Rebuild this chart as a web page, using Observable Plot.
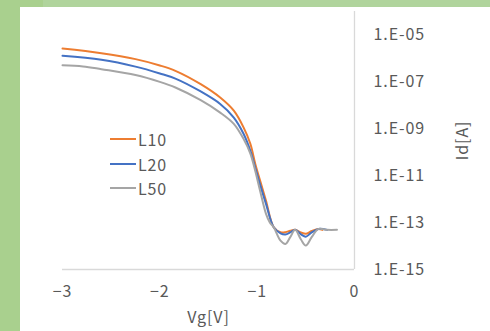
<!DOCTYPE html>
<html><head><meta charset="utf-8">
<script src="https://cdn.jsdelivr.net/npm/d3@7"></script>
<script src="https://cdn.jsdelivr.net/npm/@observablehq/plot@0.6"></script>
<style>
html,body{margin:0;padding:0;}
body{width:490px;height:331px;overflow:hidden;background:#a9d08e;position:relative;font-family:"Noto Sans CJK JP","Noto Sans",sans-serif;}
#topband{position:absolute;left:43px;top:0;width:447px;height:7px;background:#b0d49c;}
#panel{position:absolute;left:20px;top:7px;width:470px;height:324px;background:#fff;}
#chart{position:absolute;left:0;top:0;}
#chart svg text{letter-spacing:0.9px;}
#legend{position:absolute;left:90px;top:120px;font-size:16px;color:#595959;letter-spacing:0.9px;}
.row{display:flex;align-items:center;height:24.5px;}
.sw{width:26px;height:2px;margin-right:2px;}
</style></head><body>
<div id="topband"></div>
<div id="panel"><div id="chart"></div><div id="legend"></div></div>
<script>
// Series names and colours
const seriesNames = ["L10", "L20", "L50"];
const seriesColors = ["#ED7D31", "#4472C4", "#A5A5A5"];

// Gate voltage Vg [V] and log10 of drain current Id [A]
const vgL10 = [-3.00,-2.60,-2.25,-2.00,-1.84,-1.58,-1.38,-1.24,-1.14,-1.07,-1.02,-0.97,-0.91,-0.83,-0.76,-0.71,-0.66,-0.61,-0.55,-0.50,-0.44,-0.37,-0.33];
const logIdL10 = [-5.58,-5.78,-6.03,-6.30,-6.53,-7.10,-7.67,-8.23,-8.94,-9.64,-10.49,-11.21,-12.06,-13.20,-13.41,-13.41,-13.35,-13.31,-13.42,-13.48,-13.36,-13.27,-13.31];

const vgL20 = [-3.00,-2.60,-2.25,-2.00,-1.84,-1.58,-1.38,-1.24,-1.14,-1.07,-1.02,-0.97,-0.91,-0.83,-0.76,-0.71,-0.66,-0.61,-0.55,-0.50,-0.44,-0.37,-0.28];
const logIdL20 = [-5.89,-6.06,-6.35,-6.64,-6.86,-7.41,-7.94,-8.52,-9.21,-9.94,-10.66,-11.38,-12.19,-13.20,-13.46,-13.51,-13.42,-13.31,-13.50,-13.60,-13.42,-13.27,-13.31];

const vgL50 = [-3.00,-2.79,-2.60,-2.25,-2.00,-1.84,-1.58,-1.38,-1.24,-1.14,-1.07,-1.02,-0.97,-0.91,-0.87,-0.83,-0.76,-0.71,-0.66,-0.61,-0.55,-0.50,-0.44,-0.37,-0.28,-0.18];
const logIdL50 = [-6.29,-6.34,-6.46,-6.71,-7.00,-7.24,-7.78,-8.31,-8.79,-9.43,-10.06,-10.79,-11.64,-12.62,-13.00,-13.20,-13.77,-13.91,-13.62,-13.31,-13.72,-13.98,-13.62,-13.27,-13.31,-13.31];

// Axis ticks
const xTicks = [-3, -2, -1, 0];
const yTicks = [1e-15, 1e-13, 1e-11, 1e-9, 1e-7, 1e-5];

const build = (name, vg, lg) => vg.map((v, i) => ({series: name, vg: v, id: Math.pow(10, lg[i])}));
const data = [
  ...build("L10", vgL10, logIdL10),
  ...build("L20", vgL20, logIdL20),
  ...build("L50", vgL50, logIdL50)
];

const fmtY = d => "1.E-" + String(-Math.round(Math.log10(d))).padStart(2, "0");
const fmtX = d => d === 0 ? "0" : (d < 0 ? "\u2212" : "") + Math.abs(d);

const chart = Plot.plot({
  width: 470,
  height: 324,
  marginLeft: 42,
  marginRight: 136,
  marginTop: 4,
  marginBottom: 62,
  style: {background: "transparent", fontFamily: "'Noto Sans CJK JP','Noto Sans',sans-serif", fontSize: "16px", color: "#595959"},
  x: {domain: [-3, 0]},
  y: {type: "log", domain: [1e-15, 1e-4]},
  color: {domain: seriesNames, range: seriesColors},
  marks: [
    Plot.ruleY([1e-15], {stroke: "#d9d9d9", strokeWidth: 1.3}),
    Plot.ruleX([0], {stroke: "#d9d9d9", strokeWidth: 1.3}),
    Plot.axisX({ticks: xTicks, tickSize: 0, tickPadding: 16, tickFormat: fmtX, label: "Vg[V]", labelAnchor: "center", labelArrow: "none", labelOffset: 53, fill: "#595959"}),
    Plot.axisY({anchor: "right", ticks: yTicks, tickSize: 0, tickPadding: 19, tickFormat: fmtY, label: "Id[A]", labelAnchor: "center", labelArrow: "none", labelOffset: 113, fill: "#595959"}),
    Plot.line(data, {x: "vg", y: "id", z: "series", stroke: "series", curve: "catmull-rom", strokeWidth: 2})
  ]
});
document.getElementById("chart").appendChild(chart);

const legend = document.getElementById("legend");
seriesNames.forEach((n, i) => {
  const row = document.createElement("div");
  row.className = "row";
  const sw = document.createElement("span");
  sw.className = "sw";
  sw.style.background = seriesColors[i];
  const t = document.createElement("span");
  t.textContent = n;
  row.appendChild(sw);
  row.appendChild(t);
  legend.appendChild(row);
});
</script></body></html>
